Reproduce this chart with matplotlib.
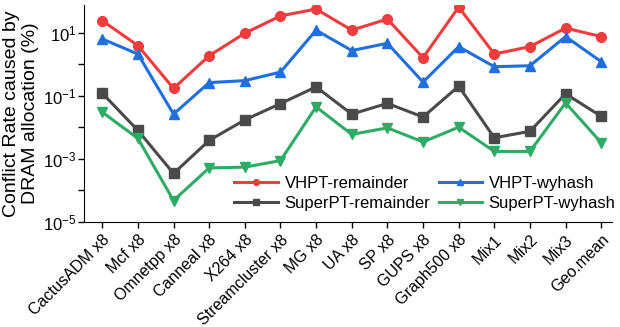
import matplotlib
matplotlib.use("Agg")
import matplotlib.pyplot as plt
import numpy as np

plt.rcParams['font.family'] = ['Liberation Sans', 'DejaVu Sans']
plt.rcParams['mathtext.fontset'] = 'custom'
plt.rcParams['mathtext.rm'] = 'Liberation Sans'
plt.rcParams['mathtext.it'] = 'Liberation Sans:italic'

# benchmarks on the x axis
labels = ['CactusADM x8', 'Mcf x8', 'Omnetpp x8', 'Canneal x8', 'X264 x8',
          'Streamcluster x8', 'MG x8', 'UA x8', 'SP x8', 'GUPS x8',
          'Graph500 x8', 'Mix1', 'Mix2', 'Mix3', 'Geo.mean']

# conflict rate (%)
vhpt_rem = [24, 3.9, 0.17, 1.85, 9.6, 34, 56, 12, 27, 1.6, 65, 2.1, 3.6, 14, 7.5]
vhpt_wy = [6.3, 2.1, 0.026, 0.26, 0.30, 0.56, 12, 2.7, 4.6, 0.27, 3.6, 0.83, 0.89, 7.5, 1.2]
super_rem = [0.12, 0.0079, 0.00034, 0.0038, 0.017, 0.056, 0.19, 0.026, 0.057,
             0.021, 0.20, 0.0046, 0.0074, 0.115, 0.022]
super_wy = [0.030, 0.0044, 4.7e-5, 0.00051, 0.00054, 0.00087, 0.044, 0.0059,
            0.0095, 0.0034, 0.010, 0.0017, 0.0017, 0.059, 0.0032]

fig = plt.figure(figsize=(6.2, 3.27), dpi=100)
ax = fig.add_axes([0.135, 0.322, 0.852, 0.663])

x = np.arange(len(labels))
lw, ms = 2.2, 7
l1, = ax.plot(x, vhpt_rem, color='#f03c3c', marker='o', lw=lw, ms=ms, label='VHPT-remainder')
l2, = ax.plot(x, vhpt_wy, color='#1f6fdc', marker='^', lw=lw, ms=ms, label='VHPT-wyhash')
l3, = ax.plot(x, super_rem, color='#4a4a4a', marker='s', lw=lw, ms=ms, label='SuperPT-remainder')
l4, = ax.plot(x, super_wy, color='#2eab64', marker='v', lw=lw, ms=ms, label='SuperPT-wyhash')

ax.set_yscale('log')
ax.set_ylim(1e-5, 76)
ax.set_xlim(-0.52, 14.3)
ax.set_yticks([10.0**k for k in range(-5, 2)])
ax.set_yticklabels(['$10^{%d}$' % k if k % 2 else '' for k in range(-5, 2)], fontsize=12)
ax.minorticks_off()
ax.set_xticks(x)
ax.set_xticklabels(labels, rotation=45, ha='right', rotation_mode='anchor', fontsize=11.5)
ax.tick_params(direction='out', length=4, width=1)
ax.tick_params(axis='y', pad=1)

for s in ['top', 'right']:
    ax.spines[s].set_visible(False)

ax.set_ylabel('Conflict Rate caused by\nDRAM allocation (%)', fontsize=14, labelpad=3)

# column-wise fill -> rows: VHPT pair, SuperPT pair
ax.legend([l1, l3, l2, l4], [l.get_label() for l in (l1, l3, l2, l4)],
          ncol=2, loc='lower right', bbox_to_anchor=(1.035, -0.02), frameon=False,
          fontsize=12, markerscale=0.6, handlelength=2.6, handletextpad=0.4,
          columnspacing=0.5, labelspacing=0.3)

fig.savefig('out.png', dpi=100)
